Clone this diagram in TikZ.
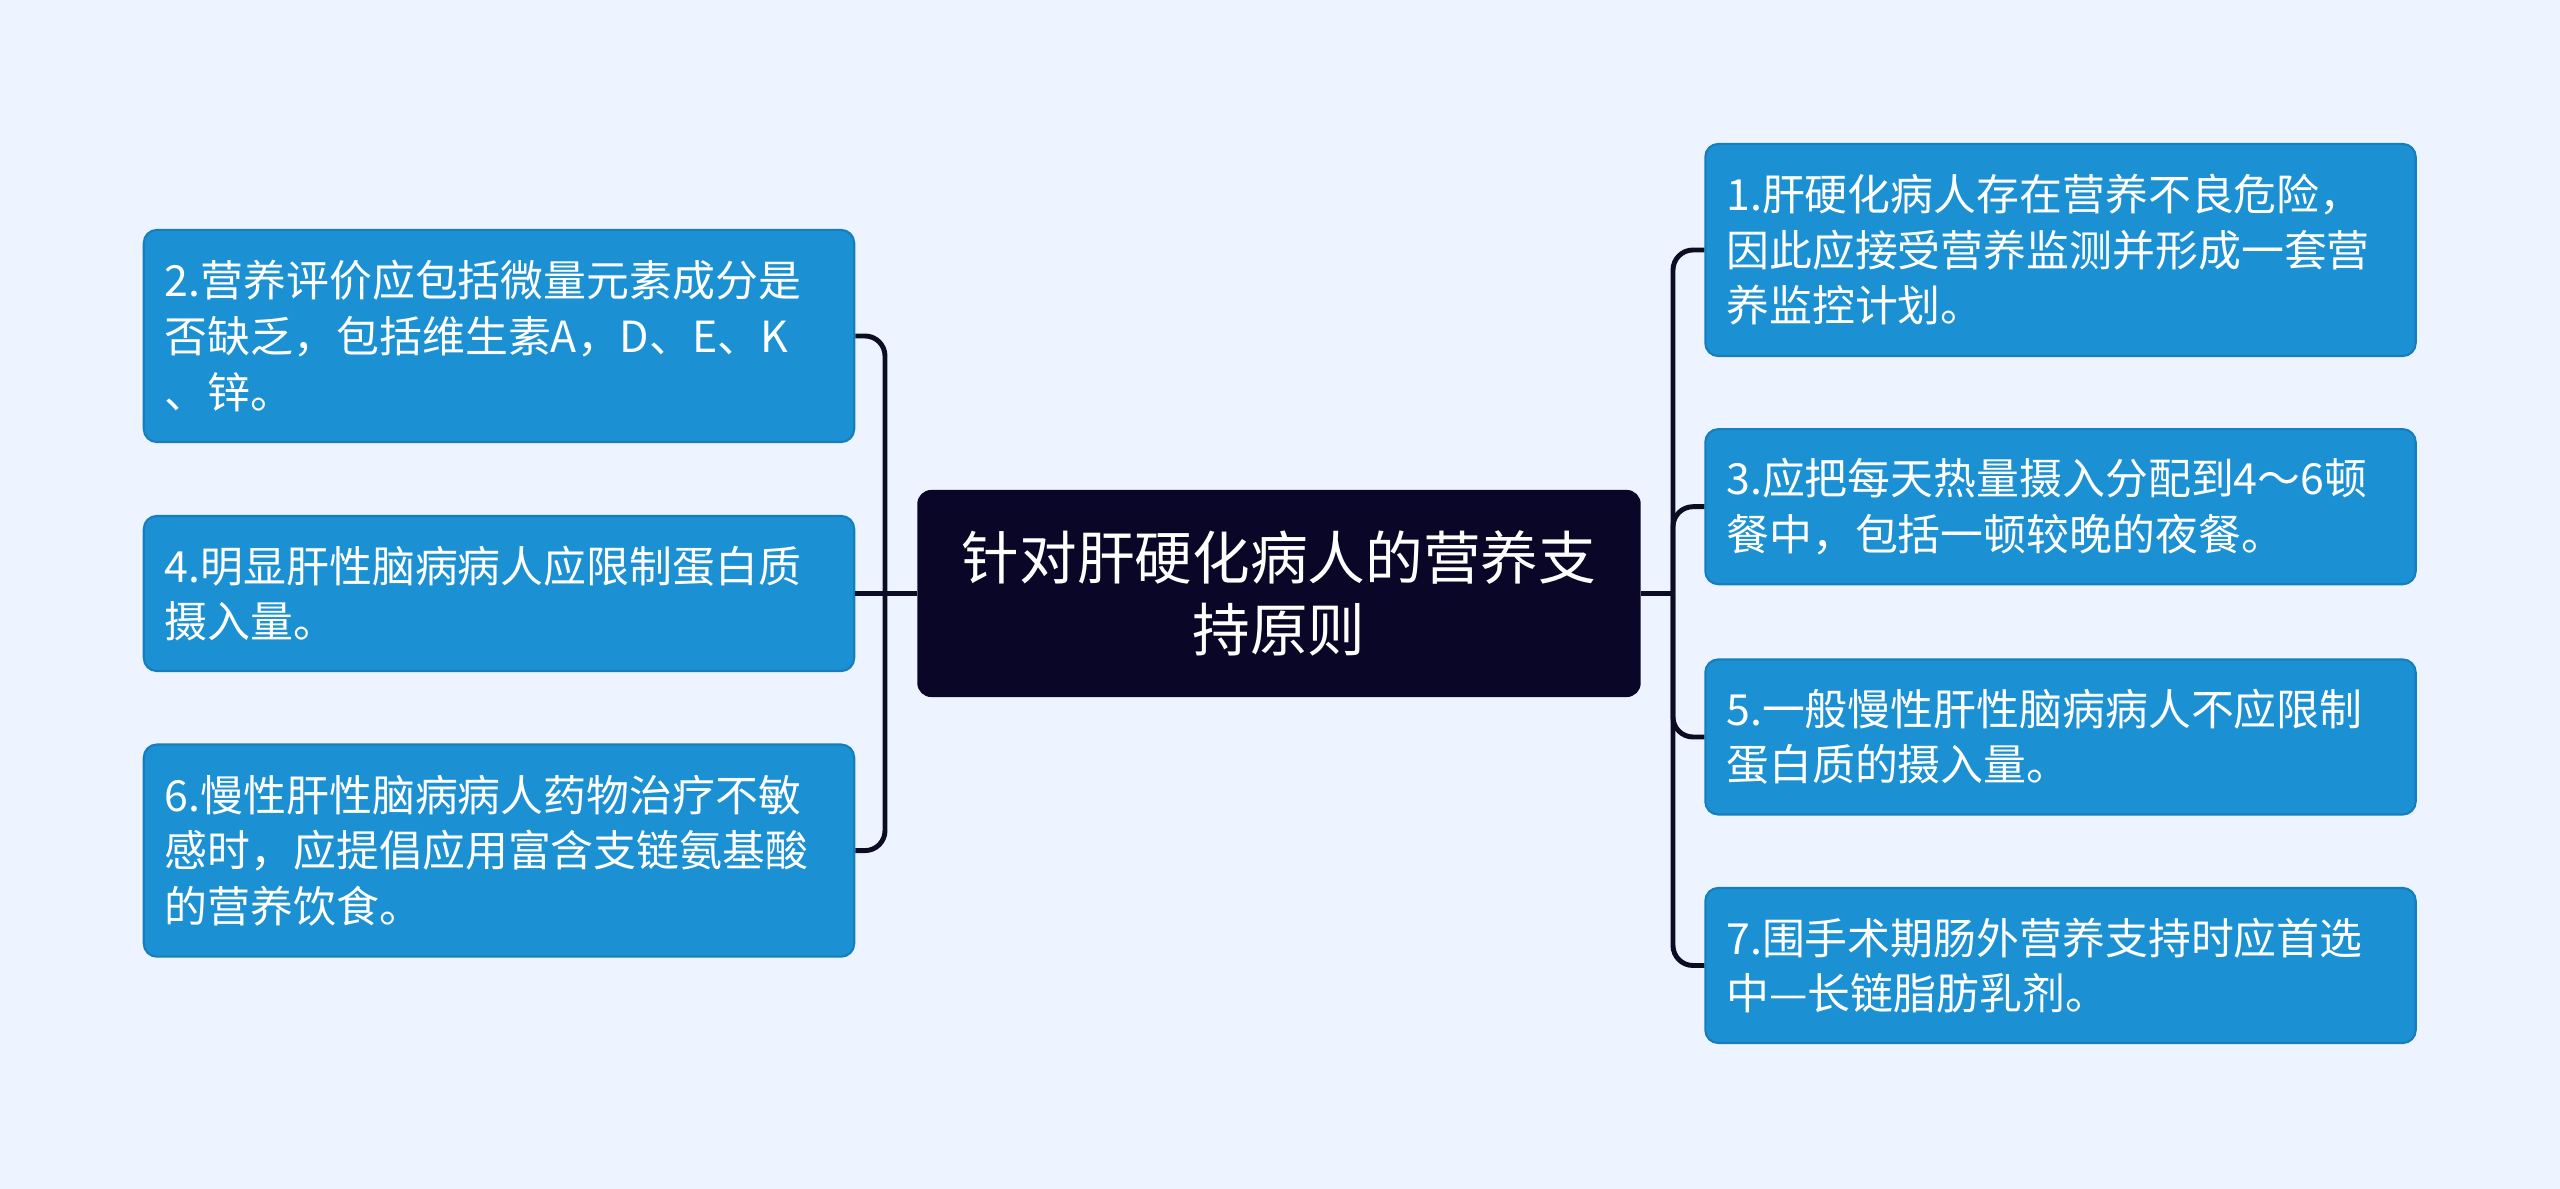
\documentclass[tikz,border=0pt]{standalone}
\usepackage{fontspec}
\setmainfont{Noto Sans CJK SC}
\usepackage{tikz}
\definecolor{bgcolor}{RGB}{238,244,255}
\definecolor{leafcolor}{RGB}{27,144,210}
\definecolor{leafedge}{RGB}{22,126,190}
\definecolor{topiccolor}{RGB}{10,6,40}
\definecolor{linkcolor}{RGB}{12,12,36}

\begin{document}
\begin{tikzpicture}[x=0.01cm, y=-0.01cm,
    leaf/.style={draw=leafedge, line width=0.6pt, fill=leafcolor, rounded corners=0.13cm,
          text=white, align=left, text width=6.68cm, inner xsep=0.21cm, inner ysep=0pt,
          font=\fontsize{12.2}{15.8}\selectfont},
    topic/.style={fill=topiccolor, rounded corners=0.14cm, text=white, align=center,
          minimum width=7.23cm, minimum height=2.07cm,
          font=\fontsize{16.4}{20.5}\selectfont},
    link/.style={draw=linkcolor, line width=1.4pt, rounded corners=0.2cm}]
    \useasboundingbox[fill=bgcolor] (0,0) rectangle (2560,1189);

    % centre
    \node[topic] (root) at (1279,593.5) {针对肝硬化病人的营养支\\持原则};

    % left side
    \node[leaf, minimum height=2.12cm] (n2) at (499,336)
         {2.营养评价应包括微量元素成分是\\否缺乏，包括维生素A，D、E、K\\、锌。};
    \node[leaf, minimum height=1.55cm] (n4) at (499,593.5)
         {4.明显肝性脑病病人应限制蛋白质\\摄入量。};
    \node[leaf, minimum height=2.12cm] (n6) at (499,850.6)
         {6.慢性肝性脑病病人药物治疗不敏\\感时，应提倡应用富含支链氨基酸\\的营养饮食。};

    % right side
    \node[leaf, minimum height=2.12cm] (n1) at (2060.5,250)
         {1.肝硬化病人存在营养不良危险，\\因此应接受营养监测并形成一套营\\养监控计划。};
    \node[leaf, minimum height=1.55cm] (n3) at (2060.5,506.7)
         {3.应把每天热量摄入分配到4～6顿\\餐中，包括一顿较晚的夜餐。};
    \node[leaf, minimum height=1.55cm] (n5) at (2060.5,737)
         {5.一般慢性肝性脑病病人不应限制\\蛋白质的摄入量。};
    \node[leaf, minimum height=1.55cm] (n7) at (2060.5,965.5)
         {7.围手术期肠外营养支持时应首选\\中—长链脂肪乳剂。};

    % connectors
    \coordinate (ljoin) at (885,593.5);
    \coordinate (rjoin) at (1673,593.5);
    \draw[link] (root.west) -- (n4.east);
    \draw[link] (ljoin) |- (n2.east);
    \draw[link] (ljoin) |- (n6.east);
    \draw[link] (root.east) -- (rjoin);
    \draw[link] (rjoin) |- (n1.west);
    \draw[link] (rjoin) |- (n3.west);
    \draw[link] (rjoin) |- (n5.west);
    \draw[link] (rjoin) |- (n7.west);
  \end{tikzpicture}
\end{document}
